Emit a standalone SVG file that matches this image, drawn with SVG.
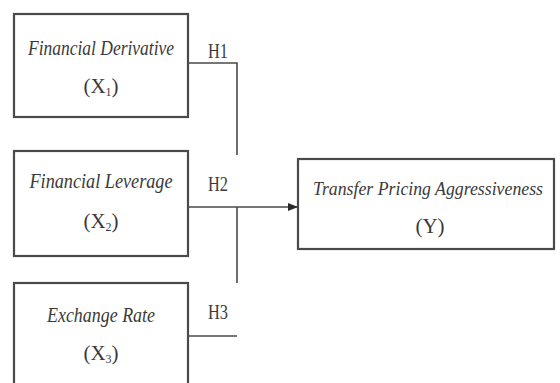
<svg xmlns="http://www.w3.org/2000/svg" width="560" height="383" viewBox="0 0 560 383">
<style>
.box{fill:#fff;stroke:#4a4a4a;stroke-width:2.2}
.ln{fill:none;stroke:#4a4a4a;stroke-width:1.6}
.t{font-family:"Liberation Serif",serif;fill:#3a3a3a;text-anchor:middle}
.it{font-style:italic;font-size:21px}
.v{font-size:21px}
.h{font-size:20px}
</style>
<defs>
<marker id="arr" markerWidth="10" markerHeight="8" refX="10" refY="4" orient="auto" markerUnits="userSpaceOnUse">
<path d="M0,0 L10,4 L0,8 Z" fill="#2a2a2a"/>
</marker>
</defs>
<rect width="560" height="383" fill="#fff"/>
<g id="x1">
<rect class="box" x="14" y="14" width="174" height="103"/>
<text class="t it" x="101" y="55" style="font-size:20px" textLength="146" lengthAdjust="spacingAndGlyphs">Financial Derivative</text>
<text class="t v" x="101" y="93">(X<tspan font-size="12" dy="3">1</tspan><tspan dy="-3">)</tspan></text>
</g>
<g id="x2">
<rect class="box" x="14" y="151" width="174" height="105"/>
<text class="t it" x="101" y="188" textLength="143" lengthAdjust="spacingAndGlyphs">Financial Leverage</text>
<text class="t v" x="101" y="228">(X<tspan font-size="12" dy="3">2</tspan><tspan dy="-3">)</tspan></text>
</g>
<g id="x3">
<rect class="box" x="14" y="283" width="174" height="110"/>
<text class="t it" x="101" y="322" textLength="108" lengthAdjust="spacingAndGlyphs">Exchange Rate</text>
<text class="t v" x="101" y="360">(X<tspan font-size="12" dy="3">3</tspan><tspan dy="-3">)</tspan></text>
</g>
<g id="y">
<rect class="box" x="298" y="159" width="256" height="90"/>
<text class="t it" x="428" y="195" style="font-size:18.5px" textLength="230" lengthAdjust="spacingAndGlyphs">Transfer Pricing Aggressiveness</text>
<text class="t v" x="430" y="233">(Y)</text>
</g>
<g id="connectors">
<path class="ln" d="M188,63 H237 V155"/>
<path class="ln" d="M237,207 V283"/>
<path class="ln" d="M188,336 H237"/>
<path class="ln" d="M188,207 H298" marker-end="url(#arr)"/>
<text class="t h" x="218" y="58" textLength="20" lengthAdjust="spacingAndGlyphs">H1</text>
<text class="t h" x="218" y="191" textLength="20" lengthAdjust="spacingAndGlyphs">H2</text>
<text class="t h" x="218" y="319" textLength="20" lengthAdjust="spacingAndGlyphs">H3</text>
</g>
</svg>
